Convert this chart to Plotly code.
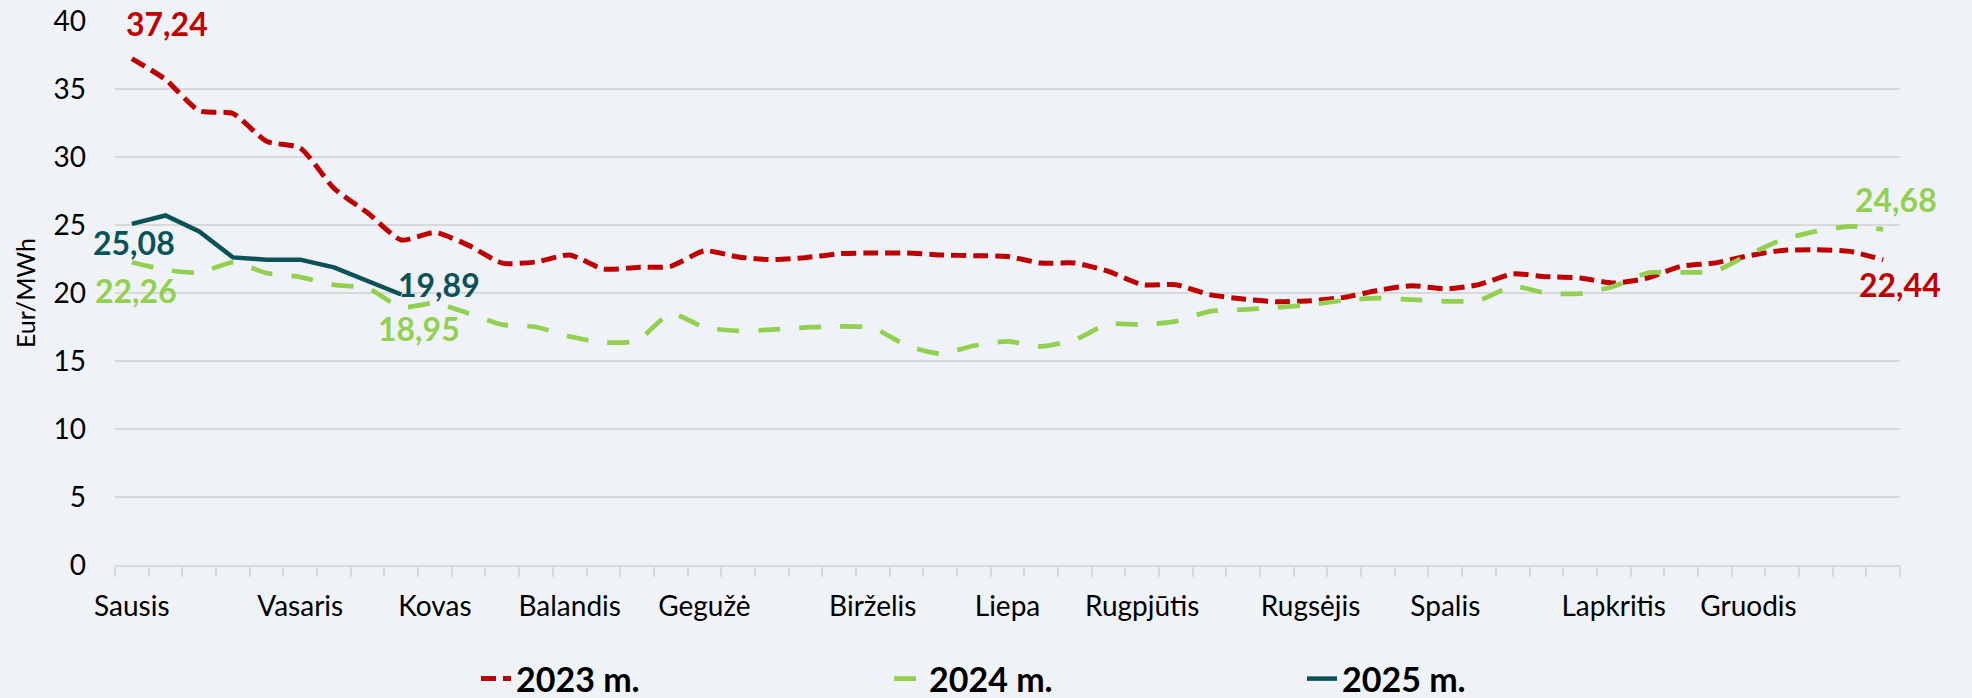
import plotly.graph_objects as go

weeks = list(range(53))
month_pos = [0, 5, 9, 13, 17, 22, 26, 30, 35, 39, 44, 48]
month_names = ["Sausis", "Vasaris", "Kovas", "Balandis", "Gegužė", "Birželis",
               "Liepa", "Rugpjūtis", "Rugsėjis", "Spalis", "Lapkritis", "Gruodis"]

y2023 = [37.24, 35.7, 33.4, 33.2, 31.15, 30.66, 27.7, 25.9, 23.9, 24.45,
         23.5, 22.2, 22.28, 22.8, 21.76, 21.88, 21.96, 23.1, 22.65, 22.45,
         22.6, 22.89, 22.94, 22.94, 22.8, 22.74, 22.69, 22.2, 22.2, 21.59,
         20.61, 20.61, 19.88, 19.56, 19.36, 19.43, 19.68, 20.19, 20.54, 20.3,
         20.62, 21.4, 21.2, 21.1, 20.73, 21.1, 21.96, 22.2, 22.74, 23.13,
         23.18, 23.06, 22.44]
y2024 = [22.26, 21.7, 21.5, 22.25, 21.47, 21.17, 20.6, 20.36, 18.95, 19.26,
         18.5, 17.67, 17.5, 16.8, 16.37, 16.49, 18.48, 17.47, 17.22, 17.3,
         17.47, 17.55, 17.43, 16.15, 15.54, 16.12, 16.44, 16.07, 16.57, 17.72,
         17.67, 17.91, 18.65, 18.77, 18.94, 19.14, 19.46, 19.63, 19.51, 19.39,
         19.45, 20.49, 20.0, 19.95, 20.49, 21.47, 21.52, 21.6, 22.82, 23.92,
         24.53, 24.9, 24.68]
y2025 = [25.08, 25.7, 24.53, 22.62, 22.45, 22.45, 21.88, 20.85, 19.89]

RED = "#C00000"
GREEN = "#92D050"
TEAL = "#0A5258"
FONT = "Lato"

fig = go.Figure()
fig.add_trace(go.Scatter(x=weeks, y=y2023, name="2023 m.", mode="lines",
                         line=dict(color=RED, width=5, dash="15px,7px", shape="spline", smoothing=0.6)))
fig.add_trace(go.Scatter(x=weeks, y=y2024, name="2024 m.", mode="lines",
                         line=dict(color=GREEN, width=4.75, dash="22px,19px", shape="spline", smoothing=0.6)))
fig.add_trace(go.Scatter(x=weeks[:len(y2025)], y=y2025, name="2025 m.", mode="lines",
                         line=dict(color=TEAL, width=4.5)))

def lab(i, series, color, xs, ys):
    v = series[i]
    fig.add_annotation(x=i, y=v, text=f"{v:.2f}".replace(".", ","), showarrow=False,
                       xanchor="center", yanchor="middle", xshift=xs, yshift=ys,
                       font=dict(family=FONT, size=32, color=color, weight="bold"))

lab(0, y2023, RED, 35, 35)
lab(0, y2025, TEAL, 2, -19)
lab(0, y2024, GREEN, 4, -28)
lab(8, y2025, TEAL, 38, 10)
lab(8, y2024, GREEN, 18, -21)
lab(52, y2024, GREEN, 13, 30)
lab(52, y2023, RED, 17, -25)

fig.update_layout(
    width=1972, height=698,
    margin=dict(l=115, r=72, t=21, b=133, autoexpand=False),
    paper_bgcolor="#EFF3F7", plot_bgcolor="#EFF3F7",
    font=dict(family=FONT, color="#000000"),
    showlegend=True,
    legend=dict(orientation="h", xref="container", x=476 / 1972, xanchor="left",
                yref="container", y=19 / 698, yanchor="middle",
                entrywidth=368, entrywidthmode="pixels",
                font=dict(family=FONT, size=34, color="#000000", weight="bold"),
                bgcolor="rgba(0,0,0,0)"),
    hovermode=False,
)
fig.update_xaxes(range=[-0.5, 52.5], tickmode="array", tickvals=month_pos, ticktext=month_names,
                 ticks="", showgrid=False, zeroline=False, automargin=False,
                 showline=True, linecolor="#D9D9D9", linewidth=1.5,
                 tickfont=dict(family=FONT, size=28, color="#000000"),
                 ticklabelstandoff=16,
                 minor=dict(ticks="outside", ticklen=10, tickcolor="#D9D9D9", tickwidth=1.5,
                            tick0=-0.5, dtick=1, showgrid=False))
fig.update_yaxes(range=[0, 40], tickmode="linear", tick0=0, dtick=5,
                 showgrid=True, gridcolor="#D9D9D9", gridwidth=1.5, zeroline=False,
                 showline=False, ticks="", automargin=False,
                 tickfont=dict(family=FONT, size=28, color="#000000"),
                 ticklabelstandoff=28,
                 title=dict(text="Eur/MWh", font=dict(family=FONT, size=25, color="#000000"), standoff=10))

fig.write_html("out.html", config={"displayModeBar": False},
               post_script="document.body.style.margin='0';document.body.style.background='#EFF3F7';")
